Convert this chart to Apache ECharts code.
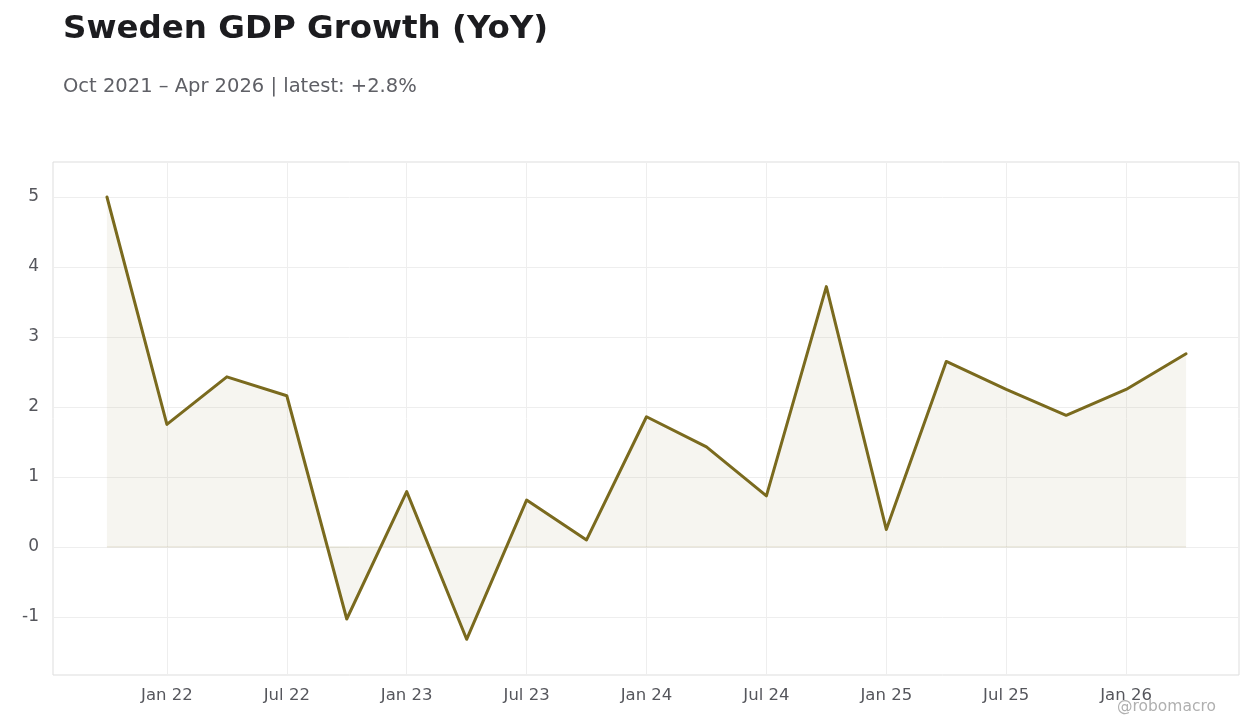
<!DOCTYPE html>
<html><head><meta charset="utf-8">
<script src="https://cdn.jsdelivr.net/npm/echarts@6/dist/echarts.min.js"></script>
<style>html,body{margin:0;padding:0;background:#fff}#c{width:1260px;height:728px}</style>
</head><body><div id="c"></div>
<script>
// months since Jan 2022
var months = [-3,0,3,6,9,12,15,18,21,24,27,30,33,36,39,42,45,48,51];
var values = [5.0,1.75,2.43,2.16,-1.03,0.79,-1.32,0.67,0.10,1.86,1.43,0.73,3.72,0.25,2.65,2.25,1.88,2.25,2.76];
var tickMonths = [0,6,12,18,24,30,36,42,48];
var tickLabels = ['Jan 22','Jul 22','Jan 23','Jul 23','Jan 24','Jul 24','Jan 25','Jul 25','Jan 26'];
var yTicks = [-1,0,1,2,3,4,5];

var chart = echarts.init(document.getElementById('c'));
chart.setOption({
  animation:false,
  title:[
    {text:'Sweden GDP Growth (YoY)',left:58,top:8,textStyle:{fontFamily:'DejaVu Sans',fontSize:32.5,fontWeight:'bold',color:'#1c1c1f'}},
    {text:'Oct 2021 – Apr 2026 | latest: +2.8%',left:58,top:72,textStyle:{fontFamily:'DejaVu Sans',fontSize:19.5,fontWeight:'normal',color:'#5f6066'}},
    {text:'@robomacro',left:1112,top:694,textStyle:{fontFamily:'DejaVu Sans',fontSize:15.5,fontWeight:'normal',color:'#b0b0b0'}}
  ],
  grid:{left:53,right:21,top:162,bottom:53,show:true,borderColor:'#dddddd',borderWidth:1},
  xAxis:{type:'value',min:-5.7,max:53.65,
    axisLine:{show:false},axisTick:{show:false},splitLine:{show:false},
    axisLabel:{customValues:tickMonths,formatter:function(v){var i=tickMonths.indexOf(v);return i>=0?tickLabels[i]:'';},
      fontFamily:'DejaVu Sans',fontSize:16.5,color:'#55565c',margin:12}},
  yAxis:{type:'value',min:-1.83,max:5.5,
    axisLine:{show:false},axisTick:{show:false},
    axisLabel:{customValues:yTicks,fontFamily:'DejaVu Sans',fontSize:17,color:'#55565c',margin:14},
    splitLine:{show:false}},
  series:[
    {type:'line',data:months.map(function(m,i){return [m,values[i]];}),
     symbol:'none',showSymbol:false,lineStyle:{color:'#7a6a1e',width:3,join:'round',cap:'round'},
     areaStyle:{color:'rgba(180,168,125,0.17)',origin:0},
     emphasis:{disabled:true},
     z:3},
    {type:'line',data:[],silent:true,z:1,
     markLine:{silent:true,symbol:'none',label:{show:false},z:1,
       lineStyle:{color:'#eeeeee',width:1,type:'solid'},
       data:tickMonths.map(function(m){return {xAxis:m};}).concat(yTicks.map(function(t){return {yAxis:t};}))}},
    {type:'line',data:[[-3,0],[51,0]],symbol:'none',silent:true,z:2,
     lineStyle:{color:'rgba(180,168,125,0.3)',width:1}}
  ]
});
</script></body></html>
